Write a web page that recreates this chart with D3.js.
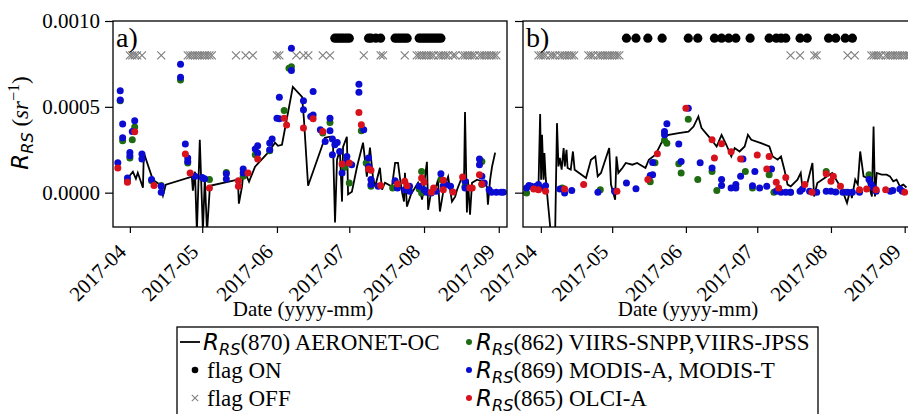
<!DOCTYPE html>
<html><head><meta charset="utf-8">
<script src="https://cdn.jsdelivr.net/npm/d3@7"></script>
<style>
body{margin:0;background:#fff}
svg{display:block;background:#fff}
text{font-family:"Liberation Serif","Times New Roman",serif;fill:#000}
</style></head><body>
<svg id="chart" width="908" height="414"></svg>
<script>
// ---- tick labels / levels ----
const monthTicks = ["2017-04-01","2017-05-01","2017-06-01","2017-07-01","2017-08-01","2017-09-01"];
const yTicks = [0, 0.0005, 0.0010];
const FLAG_ON_LEVEL = 0.0009;
const FLAG_OFF_LEVEL = 0.0008;

// ---- panel a: AERONET-OC Rrs(870) ----
const aeronetA = [
["2017-03-31 14",0.000093],["2017-04-02 06",0.000122],["2017-04-03 12",0.000081],["2017-04-04 07",0.000116],
["2017-04-06 10",0.000029],["2017-04-06 19",0.000233],["2017-04-10 12",0.000076],["2017-04-13 10",0.000047],
["2017-04-14 17",-0.000017],["2017-04-15 22",0.000047],["2017-04-26 17",0.000093],["2017-04-27 03",0.000012],
["2017-04-28 00",0.000122],["2017-04-28 19",-0.000227],["2017-04-30 00",0.000308],["2017-05-01 07",-0.000227],
["2017-05-02 02",0.000087],["2017-05-03 00",-0.00023],["2017-05-04 05",0.00004],["2017-05-15 19",0.000076],
["2017-05-16 05",-0.000064],["2017-05-17 12",0.000035],["2017-05-17 22",0.000093],["2017-05-19 12",0.000093],
["2017-05-20 10",0.000064],["2017-05-22 22",0.000151],["2017-05-28 07",0.000233],["2017-05-31 05",0.000291],
["2017-06-01 10",0.000273],["2017-06-03 02",0.000279],["2017-06-07 14",0.000616],["2017-06-11 10",0.000558],
["2017-06-12 05",0.000424],["2017-06-13 22",0.00004],["2017-06-20 22",0.00032],["2017-06-23 00",0.000326],
["2017-06-24 05",0.000308],["2017-06-25 02",-0.000174],["2017-06-25 22",0.000192],["2017-06-27 02",0.00025],
["2017-06-28 00",-0.000052],["2017-06-28 10",0.000267],["2017-06-30 00",0.000326],["2017-06-30 12",-0.00001],
["2017-07-02 02",0.000006],["2017-07-04 05",0.000151],["2017-07-06 17",0.000291],["2017-07-08 07",0.000093],
["2017-07-09 14",0.000262],["2017-07-10 19",0.000093],["2017-07-11 17",0.000035],["2017-07-13 17",0.000145],
["2017-07-14 14",0.000017],["2017-07-15 19",0.000058],["2017-07-18 17",0.000035],["2017-07-20 00",0.000174],
["2017-07-21 05",0.000174],["2017-07-22 00",0.000087],["2017-07-22 22",0],["2017-07-23 17",-0.000052],
["2017-07-24 02",0.000116],["2017-07-24 22",-0.000081],["2017-07-26 14",-0.00001],["2017-07-29 12",0.000058],
["2017-07-31 05",-0.00004],["2017-08-02 05",0.00018],["2017-08-02 17",-0.0001],["2017-08-04 07",0.000035],
["2017-08-06 00",0.000035],["2017-08-06 19",0.000076],["2017-08-07 14",-0.00011],["2017-08-08 22",0],
["2017-08-09 17",0.000047],["2017-08-11 00",0.000093],["2017-08-12 14",-0.000052],["2017-08-13 22",-0.000023],
["2017-08-14 17",0.000017],["2017-08-16 19",0.000093],["2017-08-17 14",0.000058],["2017-08-18 00",0.00047],
["2017-08-18 19",-0.000116],["2017-08-19 05",0.000076],["2017-08-20 02",-0.000128],["2017-08-20 22",0.000058],
["2017-08-23 00",0.000076],["2017-08-25 12",0.000064],["2017-08-27 02",0.000035],["2017-08-27 12",-0.00007],
["2017-08-28 10",0.000076],["2017-08-29 05",0.000151],["2017-08-30 12",0.000233]
];
// panel a: VIIRS Rrs(862)
const viirsA = [
["2017-03-28",0.000535],["2017-03-29",0.000302],["2017-03-31",0.000066],["2017-04-01",0.000202],["2017-04-02",0.000308],
["2017-04-03",0.000382],["2017-04-10",0.00007],["2017-04-14",0.000042],["2017-04-22",0.000657],["2017-04-25",0.000173],
["2017-05-04",0.000076],["2017-05-11",0.000118],["2017-05-18",0.000095],["2017-05-23",0.000221],["2017-05-29",0.000244],
["2017-06-04",0.000478],["2017-06-06",0.000725],["2017-06-07",0.000734],["2017-06-20",0.000347],["2017-06-23",0.000409],
["2017-06-29",0.000147],["2017-07-01",0.000056],["2017-07-06",0.00036],["2017-07-08",0.000173],["2017-07-10",0.000037],
["2017-07-19",0.000027],["2017-07-30",0.000022],["2017-07-31",0.000124],["2017-07-31",-0.000002],["2017-08-08",0.000076],
["2017-08-18",0.000037],["2017-08-25",0.000182],["2017-08-25",0.000047]
];
// panel a: MODIS Rrs(869)
const modisA = [
["2017-03-27",0.000174],["2017-03-28",0.000593],["2017-03-28",0.00054],["2017-03-29",0.0004],["2017-03-29",0.00032],
["2017-03-31",0.000085],["2017-04-01",0.000234],["2017-04-01",0.000215],["2017-04-02",0.000356],["2017-04-03",0.000419],
["2017-04-06",0.000225],["2017-04-06",0.000196],["2017-04-10",0.000076],["2017-04-14",0.000037],["2017-04-14",0.000002],
["2017-04-22",0.000748],["2017-04-22",0.000673],["2017-04-24",0.000283],["2017-04-25",0.000202],["2017-04-25",0.000182],
["2017-04-28",0.000095],["2017-05-01",0.000089],["2017-05-02",0.000081],["2017-05-11",0.00011],["2017-05-11",0.00008],
["2017-05-18",0.000138],["2017-05-18",0.000115],["2017-05-23",0.000254],["2017-05-24",0.000273],["2017-05-24",0.000231],
["2017-05-29",0.000289],["2017-05-30",0.000312],["2017-05-29",0.00025],["2017-06-01",0.000434],["2017-06-02",0.000556],
["2017-06-02",0.00043],["2017-06-07",0.000841],["2017-06-07",0.000711],["2017-06-12",0.000535],["2017-06-12",0.000483],
["2017-06-15",0.000444],["2017-06-16",0.000589],["2017-06-16",0.000453],["2017-06-19",0.000366],["2017-06-21",0.000298],
["2017-06-23",0.000434],["2017-06-23",0.00036],["2017-06-24",0.000312],["2017-06-24",0.000221],["2017-06-25",0.000279],
["2017-06-26",0.000292],["2017-06-27",0.00024],["2017-06-28",0.000115],["2017-06-30",0.000211],["2017-06-30",0.000182],
["2017-07-02",0.000163],["2017-07-05",0.000632],["2017-07-05",0.000585],["2017-07-07",0.000366],["2017-07-09",0.000202],
["2017-07-09",0.000153],["2017-07-10",0.000076],["2017-07-10",0.000047],["2017-07-13",0.000037],["2017-07-20",0.00007],
["2017-07-21",0.000027],["2017-07-24",0.000017],["2017-07-26",0.000037],["2017-07-26",0.000008],["2017-07-30",0.000037],
["2017-08-01",0.000017],["2017-08-02",0.000002],["2017-08-04",-0.000002],["2017-08-06",0.000008],["2017-08-08",0.00011],
["2017-08-09",0.000041],["2017-08-10",0.000047],["2017-08-12",0.000037],["2017-08-18",0.000066],["2017-08-18",0.000027],
["2017-08-24",0.000196],["2017-08-24",0.000163],["2017-08-25",0.000095],["2017-08-26",0.000056],["2017-08-28",0.000017],
["2017-08-29",0.000002],["2017-08-31",0.000002],["2017-09-02",0.000002],["2017-09-03",0.000002]
];
// panel a: OLCI Rrs(865)
const olciA = [
["2017-03-27",0.000144],["2017-03-31",0.00006],["2017-04-03",0.000355],["2017-04-11",0.000042],["2017-04-24",0.000225],
["2017-04-26",0.000115],["2017-05-04",0.000027],["2017-05-16",0.00007],["2017-05-16",0.000037],["2017-05-20",0.000115],
["2017-05-24",0.000196],["2017-06-04",0.000434],["2017-06-05",0.000394],["2017-06-12",0.000376],["2017-06-16",0.00043],
["2017-06-20",0.000356],["2017-06-28",0.000167],["2017-07-01",0.000173],["2017-07-05",0.000467],["2017-07-06",0.000395],
["2017-07-09",0.000138],["2017-07-10",0.00013],["2017-07-14",0.000042],["2017-07-21",0.000051],["2017-07-24",0.000066],
["2017-07-25",0.000041],["2017-07-31",0.000085],["2017-08-01",0.00006],["2017-08-04",0.000002],["2017-08-05",0.000027],
["2017-08-09",0.000072],["2017-08-09",0.000017],["2017-08-13",0.000004],["2017-08-17",0.000091],["2017-08-20",0.000027],
["2017-08-21",0.000027],["2017-08-24",0.000105],["2017-08-25",0.000051]
];
const flagOnA = ["2017-06-25","2017-06-26","2017-06-27","2017-06-28","2017-06-29","2017-06-30","2017-07-01",
"2017-07-09","2017-07-10","2017-07-12","2017-07-14","2017-07-20","2017-07-21","2017-07-22","2017-07-23","2017-07-24",
"2017-07-25","2017-07-30","2017-07-31","2017-08-01","2017-08-02","2017-08-03","2017-08-04","2017-08-05","2017-08-06",
"2017-08-07","2017-08-08"];
const flagOffA = ["2017-04-01","2017-04-02","2017-04-03","2017-04-04","2017-04-06","2017-04-14","2017-04-25","2017-04-26",
"2017-04-27","2017-04-28","2017-04-29","2017-04-30","2017-05-01","2017-05-02","2017-05-03","2017-05-04","2017-05-05",
"2017-05-15","2017-05-19","2017-05-22","2017-06-01","2017-06-02","2017-06-09","2017-06-12","2017-06-14","2017-06-20",
"2017-06-23","2017-07-07","2017-07-14","2017-07-15","2017-07-24","2017-07-29","2017-07-30","2017-07-31","2017-08-01",
"2017-08-02","2017-08-03","2017-08-04","2017-08-05","2017-08-07","2017-08-08","2017-08-09","2017-08-10","2017-08-11",
"2017-08-13","2017-08-14","2017-08-17","2017-08-18","2017-08-19","2017-08-20","2017-08-21","2017-08-22","2017-08-24",
"2017-08-25","2017-08-26","2017-08-27","2017-08-28","2017-08-29","2017-08-30","2017-08-31"];

// ---- panel b ----
const aeronetB = [
["2017-03-31 00",0.000027],["2017-03-31 17",0.000458],["2017-04-01 03",0.000076],["2017-04-01 12",0.000337],
["2017-04-02 03",0.000076],["2017-04-02 12",0.000231],["2017-04-03 00",0.000095],["2017-04-03 22",-0.00005],
["2017-04-05 07",-0.00025],["2017-04-07 00",-0.00025],["2017-04-07 19",0.000405],["2017-04-08 10",0.000153],
["2017-04-09 00",0.000202],["2017-04-09 18",0.000134],["2017-04-10 14",0.00026],["2017-04-11 02",0.000153],
["2017-04-11 19",0.00025],["2017-04-12 06",0.000144],["2017-04-13 14",0.000134],["2017-04-14 12",0.00024],
["2017-04-15 05",0.000134],["2017-04-20 00",0.000085],["2017-04-22 02",0.000192],["2017-04-23 22",0.000211],
["2017-04-24 22",0.000095],["2017-04-26 07",0.000115],["2017-04-29 18",0.00026],["2017-04-30 12",0.000047],
["2017-05-02 06",-0.000041],["2017-05-02 19",0.000211],["2017-05-03 14",0.000115],["2017-05-05 07",0.000144],
["2017-05-06 17",0.000173],["2017-05-09 12",0.000163],["2017-05-11 12",0.000173],["2017-05-15 00",0.000144],
["2017-05-16 10",0.000192],["2017-05-19 05",0.000221],["2017-05-22 17",0.000318],["2017-05-24 18",0.000337],
["2017-05-28 22",0.000347],["2017-06-02 02",0.000356],["2017-06-04 05",0.000385],["2017-06-06 06",0.000444],
["2017-06-07 14",0.000376],["2017-06-11 19",0.000308],["2017-06-13 22",0.000269],["2017-06-16 00",0.000337],
["2017-06-18 00",0.000279],["2017-06-20 02",0.000211],["2017-06-21 12",0.00026],["2017-06-23 14",0.00024],
["2017-06-25 17",0.000269],["2017-06-27 02",0.000337],["2017-06-28 12",0.000308],["2017-07-02 14",0.000289],
["2017-07-06 02",0.000269],["2017-07-07 12",0.000211],["2017-07-09 14",0.000192],["2017-07-11 00",0.000211],
["2017-07-12 10",0.000134],["2017-07-13 18",0.000047],["2017-07-15 02",0.000037],["2017-07-17 22",0.000076],
["2017-07-19 07",0.000115],["2017-07-20 00",0.000027],["2017-07-22 02",0.000056],["2017-07-24 05",0.000173],
["2017-07-24 22",-0.000022],["2017-07-26 06",0.000056],["2017-07-30 10",0.000095],["2017-08-01 12",0.000115],
["2017-08-05 17",0.000017],["2017-08-07 18",-0.00006],["2017-08-09 03",0.000017],["2017-08-09 19",-0.000031],
["2017-08-11 05",0.000076],["2017-08-12 07",0.000047],["2017-08-13 07",0.00024],["2017-08-14 17",0.000095],
["2017-08-16 02",0.000087],["2017-08-18 05",-0.000022],["2017-08-18 22",0.000385],["2017-08-19 12",-0.000022],
["2017-08-20 06",0.000115],["2017-08-22 07",0.000105],["2017-08-24 10",0.000105],["2017-08-25 19",0.000095],
["2017-08-27 05",0.000066],["2017-08-28 14",0.000076],["2017-08-30 00",0.000037],["2017-08-31 10",0.000047],
["2017-09-01 18",0.00003]
];
const viirsB = [
["2017-03-26",-0.000002],["2017-04-10",0.000027],["2017-04-26",0.000017],["2017-05-17",0.000064],["2017-05-19",0.000174],
["2017-05-23",0.000305],["2017-05-24",0.000288],["2017-05-29",0.000169],["2017-05-30",0.000115],["2017-06-02",0.000427],
["2017-06-06",0.000076],["2017-06-12",0.000124],["2017-06-14",0.000013],["2017-06-26",0.000124],["2017-06-29",0.000027],
["2017-07-06",0.000105],["2017-07-08",0.000002],["2017-07-15",0.000002],["2017-07-30",0.000124],["2017-08-07",0.000002],
["2017-08-17",0.000105]
];
const modisB = [
["2017-03-26",0.000027],["2017-03-27",0.000042],["2017-03-28",0.000037],["2017-03-30",0.000037],["2017-03-31",0.000047],
["2017-04-02",0.000027],["2017-04-03",0.000041],["2017-04-09",0.000022],["2017-04-11",-0.000002],["2017-04-14",0.000013],
["2017-04-25",0.000002],["2017-05-02",0.000008],["2017-05-07",0.000056],["2017-05-11",0.000023],["2017-05-17",0.0001],
["2017-05-18",0.000105],["2017-05-18",0.000176],["2017-05-23",0.000356],["2017-05-23",0.000337],["2017-05-24",0.000401],
["2017-05-29",0.000283],["2017-05-30",0.000182],["2017-06-02",0.000492],["2017-06-07",0.000174],["2017-06-12",0.000144],
["2017-06-16",0.000076],["2017-06-16",0.000042],["2017-06-20",0.000027],["2017-06-22",0.000027],["2017-06-22",0.000047],
["2017-06-24",0.000095],["2017-06-25",0.000196],["2017-06-29",0.000041],["2017-06-30",0.000124],["2017-07-02",0.000027],
["2017-07-05",0.000037],["2017-07-07",0.000138],["2017-07-09",0.000008],["2017-07-11",0.000002],["2017-07-13",0.000002],
["2017-07-15",0.000002],["2017-07-19",0.000008],["2017-07-20",0.000022],["2017-07-23",0.000008],["2017-07-26",0.000002],
["2017-07-30",0.000008],["2017-08-01",0.000008],["2017-08-03",0.000004],["2017-08-06",0.000002],["2017-08-08",0.000002],
["2017-08-10",0.000002],["2017-08-13",0.000002],["2017-08-17",0.000076],["2017-08-18",0.000047],["2017-08-19",0.000027],
["2017-08-20",0.000008],["2017-08-26",0.000008],["2017-08-27",0.000013],["2017-08-30",0.000022],["2017-08-31",0.000008]
];
const olciB = [
["2017-03-29",0.000022],["2017-03-31",0.000017],["2017-04-03",0.000008],["2017-04-11",0.000022],["2017-04-19",0.000047],
["2017-05-03",0.000008],["2017-05-16",0.000076],["2017-05-20",0.000226],["2017-06-01",0.000492],["2017-06-12",0.000308],
["2017-06-13",0.000202],["2017-06-16",0.000285],["2017-06-20",0.000238],["2017-06-24",0.000196],["2017-07-01",0.000219],
["2017-07-05",0.000138],["2017-07-06",0.000211],["2017-07-09",0.00006],["2017-07-10",0.000027],["2017-07-13",0.000089],
["2017-07-21",0.000047],["2017-07-24",0.000002],["2017-07-30",0.00011],["2017-08-01",0.000066],["2017-08-02",0.000095],
["2017-08-05",0.000037],["2017-08-13",0.000017],["2017-08-16",0.000022],["2017-08-20",0.000017],["2017-08-24",0.000017],
["2017-09-01",0.000002]
];
const flagOnB = ["2017-05-07","2017-05-11","2017-05-16","2017-05-22","2017-06-02","2017-06-06","2017-06-13","2017-06-16",
"2017-06-19","2017-06-22","2017-06-28","2017-07-06","2017-07-09","2017-07-11","2017-07-13","2017-07-19","2017-07-22",
"2017-07-31","2017-08-03","2017-08-07","2017-08-10"];
const flagOffB = ["2017-03-31","2017-04-01","2017-04-02","2017-04-03","2017-04-05","2017-04-06","2017-04-07","2017-04-09",
"2017-04-10","2017-04-11","2017-04-12","2017-04-13","2017-04-14","2017-04-15","2017-04-21","2017-04-22","2017-04-23",
"2017-04-25","2017-04-26","2017-04-27","2017-04-28","2017-04-29","2017-04-30","2017-05-01","2017-05-02","2017-05-03",
"2017-05-04","2017-07-15","2017-07-19","2017-07-25","2017-07-26","2017-08-08","2017-08-11","2017-08-18","2017-08-19",
"2017-08-20","2017-08-21","2017-08-22","2017-08-24","2017-08-25","2017-08-26","2017-08-27","2017-08-28","2017-08-29",
"2017-08-30","2017-08-31","2017-09-01","2017-09-02","2017-09-03"];

// ---- colours ----
const colGreen = "#1f6b12", colBlue = "#0b0bd2", colRed = "#d8121c", colGray = "#808080";

const parseT = s => d3.timeParse(s.length > 10 ? "%Y-%m-%d %H" : "%Y-%m-%d")(s);
const svg = d3.select("#chart");
const plotTop = 21, plotBottom = 227;
const y = d3.scaleLinear().domain([-0.0002, 0.0010]).range([plotBottom, plotTop]);

const panels = [
  {key: "a", tag: "a)", x: d3.scaleTime().domain([parseT("2017-03-25 00"), parseT("2017-09-04 10")]).range([113, 507]),
   line: aeronetA, green: viirsA, blue: modisA, red: olciA, on: flagOnA, off: flagOffA, yLabels: true, xTitle: 303},
  {key: "b", tag: "b)", x: d3.scaleTime().domain([parseT("2017-03-24 12"), parseT("2017-09-04 22")]).range([523, 914]),
   line: aeronetB, green: viirsB, blue: modisB, red: olciB, on: flagOnB, off: flagOffB, yLabels: false, xTitle: 688}
];

const xMark = s => `M${-s},${-s}L${s},${s}M${-s},${s}L${s},${-s}`;

panels.forEach(p => {
  const [x0, x1] = p.x.range();
  const g = svg.append("g");
  g.append("clipPath").attr("id", "clip-" + p.key)
    .append("rect").attr("x", x0).attr("y", plotTop).attr("width", x1 - x0).attr("height", plotBottom - plotTop);
  const plot = g.append("g").attr("clip-path", `url(#clip-${p.key})`);

  // flag rows
  plot.append("g").selectAll("path").data(p.off).join("path")
    .attr("transform", d => `translate(${p.x(parseT(d))},${y(FLAG_OFF_LEVEL)})`)
    .attr("d", xMark(4)).attr("stroke", colGray).attr("stroke-width", 1.2).attr("fill", "none");
  plot.append("g").selectAll("circle").data(p.on).join("circle")
    .attr("cx", d => p.x(parseT(d))).attr("cy", y(FLAG_ON_LEVEL)).attr("r", 4.6).attr("fill", "#000");

  // in-situ line
  const line = d3.line().x(d => p.x(parseT(d[0]))).y(d => y(d[1]));
  plot.append("path").datum(p.line).attr("d", line)
    .attr("fill", "none").attr("stroke", "#000").attr("stroke-width", 1.8).attr("stroke-linejoin", "miter");

  // satellite points
  [[p.green, colGreen], [p.blue, colBlue], [p.red, colRed]].forEach(([data, c]) => {
    plot.append("g").selectAll("circle").data(data).join("circle")
      .attr("cx", d => p.x(parseT(d[0]))).attr("cy", d => y(d[1])).attr("r", 3.5).attr("fill", c);
  });

  // frame
  g.append("rect").attr("x", x0).attr("y", plotTop).attr("width", x1 - x0).attr("height", plotBottom - plotTop)
    .attr("fill", "none").attr("stroke", "#000").attr("stroke-width", 1.3);

  // y axis
  const ya = g.append("g").attr("transform", `translate(${x0},0)`)
    .call(d3.axisLeft(y).tickValues(yTicks).tickSize(8).tickPadding(5)
      .tickFormat(p.yLabels ? d3.format(".4f") : () => ""));
  ya.select(".domain").remove();
  ya.selectAll("line").attr("stroke", "#000").attr("stroke-width", 1.2);
  ya.selectAll("text").attr("font-family", "Liberation Serif").attr("font-size", 21).attr("dy", "0.33em");

  // x axis
  const xa = g.append("g").attr("transform", `translate(0,${plotBottom})`)
    .call(d3.axisBottom(p.x).tickValues(monthTicks.map(parseT)).tickSize(6)
      .tickFormat(d3.timeFormat("%Y-%m")));
  xa.select(".domain").remove();
  xa.selectAll("line").attr("stroke", "#000").attr("stroke-width", 1.2);
  xa.selectAll("text").attr("font-family", "Liberation Serif").attr("font-size", 21)
    .attr("x", 0).attr("y", 0).attr("dy", null).attr("text-anchor", "end")
    .attr("transform", "translate(-3,26) rotate(-45)");

  // panel tag
  g.append("text").attr("x", x0 + 3).attr("y", 47).attr("font-size", 28).text(p.tag);

  // x title
  g.append("text").attr("x", p.xTitle).attr("y", 316).attr("text-anchor", "middle")
    .attr("font-size", 21).text("Date (yyyy-mm)");
});

// R_RS symbol in math style
function rrs(t, size) {
  t.append("tspan").attr("font-family", "DejaVu Sans").attr("font-style", "italic").text("R");
  t.append("tspan").attr("font-family", "DejaVu Sans").attr("font-style", "italic")
    .attr("font-size", size * 0.7).attr("dy", size * 0.22).text("RS");
}

// y title
const ys = 23;
const yt = svg.append("text").attr("transform", "translate(28,123) rotate(-90)")
  .attr("text-anchor", "middle").attr("font-size", ys).attr("font-family", "DejaVu Sans");
rrs(yt, ys);
yt.append("tspan").attr("dy", -ys * 0.22).text(" (");
yt.append("tspan").attr("font-style", "italic").text("sr");
yt.append("tspan").attr("font-size", ys * 0.7).attr("dy", -ys * 0.4).text("\u22121");
yt.append("tspan").attr("dy", ys * 0.4).text(")");

// legend
const lg = svg.append("g");
const fs = 23;
lg.append("rect").attr("x", 177).attr("y", 327).attr("width", 641).attr("height", 100)
  .attr("fill", "#fff").attr("stroke", "#000").attr("stroke-width", 1.3);
const rows = [342, 370, 398];
lg.append("line").attr("x1", 180).attr("x2", 200).attr("y1", rows[0]).attr("y2", rows[0])
  .attr("stroke", "#000").attr("stroke-width", 1.8);
lg.append("circle").attr("cx", 195).attr("cy", rows[1]).attr("r", 3.3).attr("fill", "#000");
lg.append("path").attr("transform", `translate(195,${rows[2]})`).attr("d", xMark(3.2))
  .attr("stroke", colGray).attr("stroke-width", 1.1);
[colGreen, colBlue, colRed].forEach((c, i) =>
  lg.append("circle").attr("cx", 469).attr("cy", rows[i]).attr("r", 3).attr("fill", c));

function mathEntry(x, yy, band, rest) {
  const t = lg.append("text").attr("x", x).attr("y", yy + 8).attr("font-size", fs);
  rrs(t, fs);
  t.append("tspan").attr("dy", -fs * 0.22).text(`(${band})`);
  t.append("tspan").text(" " + rest);
}
mathEntry(203, rows[0], "870", "AERONET-OC");
lg.append("text").attr("x", 207).attr("y", rows[1] + 8).attr("font-size", fs).text("flag ON");
lg.append("text").attr("x", 207).attr("y", rows[2] + 8).attr("font-size", fs).text("flag OFF");
mathEntry(476, rows[0], "862", "VIIRS-SNPP,VIIRS-JPSS");
mathEntry(476, rows[1], "869", "MODIS-A, MODIS-T");
mathEntry(476, rows[2], "865", "OLCI-A");
</script>
</body></html>
